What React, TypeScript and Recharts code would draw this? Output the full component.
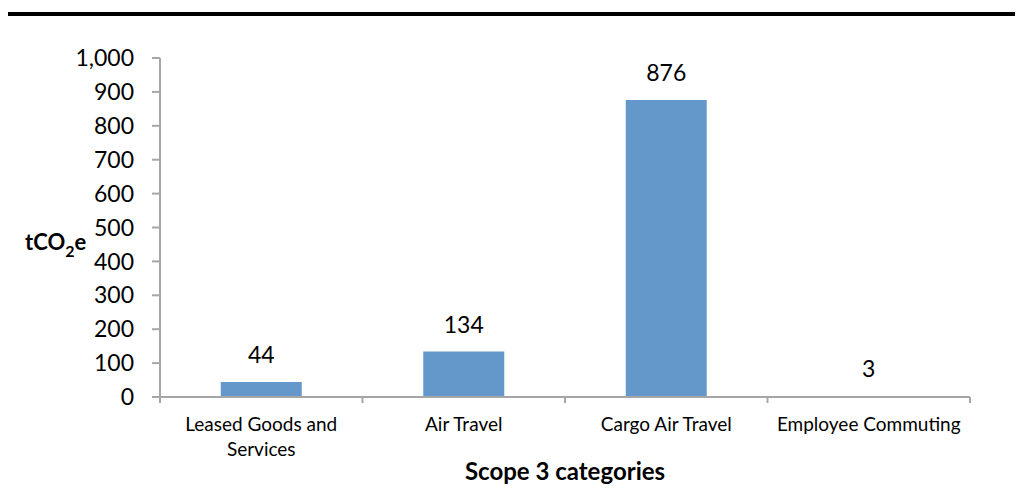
import { Bar, BarChart, Label, LabelList, XAxis, YAxis } from "recharts";

const categories = [
  "Leased Goods and Services",
  "Air Travel",
  "Cargo Air Travel",
  "Employee Commuting",
];
const emissions = [44, 134, 876, 3];
const yTicks = [0, 100, 200, 300, 400, 500, 600, 700, 800, 900, 1000];

const data = categories.map((name, i) => ({ name, value: emissions[i] }));

const WIDTH = 1015;
const HEIGHT = 488;
const PLOT_LEFT = 152;
const PLOT_RIGHT = 962;
const PLOT_TOP = 50;
const PLOT_BOTTOM = 389;
const X_AXIS_HEIGHT = 90;
const MAX_CHARS = 18;

const FONT = "Lato, 'Open Sans', sans-serif";
const AXIS = "#a6a6a6";
const BAR = "#6598ca";

// simple greedy word wrap for the category labels
function wrap(label: string) {
  const lines: string[] = [];
  let cur = "";
  for (const word of label.split(" ")) {
    const next = cur ? cur + " " + word : word;
    if (next.length > MAX_CHARS && cur) {
      lines.push(cur);
      cur = word;
    } else {
      cur = next;
    }
  }
  if (cur) lines.push(cur);
  return lines;
}

function CategoryTick(props: any) {
  const { x, payload, index } = props;
  const band = (PLOT_RIGHT - PLOT_LEFT) / categories.length;
  const left = x - band / 2;
  const lines = wrap(String(payload.value));
  return (
    <g>
      <line x1={left} x2={left} y1={PLOT_BOTTOM} y2={PLOT_BOTTOM + 6} stroke={AXIS} strokeWidth={2} />
      {index === categories.length - 1 && (
        <line
          x1={left + band}
          x2={left + band}
          y1={PLOT_BOTTOM}
          y2={PLOT_BOTTOM + 6}
          stroke={AXIS}
          strokeWidth={2}
        />
      )}
      <text x={x} y={PLOT_BOTTOM + 34} textAnchor="middle" fontSize={19} fontFamily={FONT} fill="#000">
        {lines.map((line, i) => (
          <tspan key={i} x={x} dy={i === 0 ? 0 : 25}>
            {line}
          </tspan>
        ))}
      </text>
    </g>
  );
}

function YTitle() {
  return (
    <text x={17} y={242} fontFamily={FONT} fontWeight={700} fontSize={22} fill="#000">
      tCO
      <tspan fontSize={16} dy={7}>
        2
      </tspan>
      <tspan dy={-7}>e</tspan>
    </text>
  );
}

function XTitle() {
  return (
    <text
      x={(PLOT_LEFT + PLOT_RIGHT) / 2}
      y={472}
      textAnchor="middle"
      fontFamily={FONT}
      fontWeight={700}
      fontSize={24}
      fill="#000"
    >
      Scope 3 categories
    </text>
  );
}

export default function App() {
  return (
    <div style={{ position: "relative", width: WIDTH, height: HEIGHT }}>
      <div
        style={{
          position: "absolute",
          left: -1,
          top: 4,
          width: WIDTH + 1,
          height: 4,
          background: "#000",
        }}
      />
      <BarChart
        width={WIDTH}
        height={HEIGHT}
        data={data}
        barCategoryGap="30%"
        margin={{
          top: PLOT_TOP,
          right: WIDTH - PLOT_RIGHT,
          bottom: HEIGHT - PLOT_BOTTOM - X_AXIS_HEIGHT,
          left: 0,
        }}
      >
        <XAxis
          dataKey="name"
          height={X_AXIS_HEIGHT}
          interval={0}
          tickLine={false}
          axisLine={{ stroke: AXIS, strokeWidth: 2 }}
          tick={<CategoryTick />}
        >
          <Label content={<XTitle />} />
        </XAxis>
        <YAxis
          width={PLOT_LEFT}
          domain={[0, 1000]}
          ticks={yTicks}
          interval={0}
          tickSize={8}
          tickMargin={18}
          tickFormatter={(v: number) => v.toLocaleString("en-US")}
          axisLine={{ stroke: AXIS, strokeWidth: 2 }}
          tickLine={{ stroke: AXIS, strokeWidth: 2 }}
          tick={{ fill: "#000", fontSize: 23, fontFamily: FONT }}
        >
          <Label content={<YTitle />} />
        </YAxis>
        <Bar dataKey="value" fill={BAR} isAnimationActive={false}>
          <LabelList
            dataKey="value"
            position="top"
            offset={19}
            fill="#000"
            fontSize={23}
            fontFamily={FONT}
          />
        </Bar>
      </BarChart>
    </div>
  );
}
